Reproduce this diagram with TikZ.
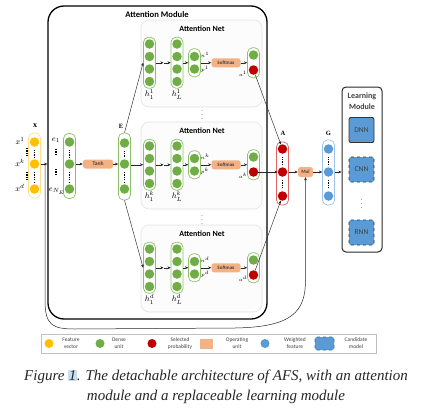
\documentclass[tikz,border=0pt]{standalone}
\usepackage{fontspec}
\setmainfont{Liberation Serif}
\setsansfont{Carlito}
\usetikzlibrary{arrows.meta}
\definecolor{cyel}{HTML}{FFC000}
\definecolor{cyelb}{HTML}{FFE08A}
\definecolor{cgrn}{HTML}{70AD47}
\definecolor{cgrnb}{HTML}{8CC168}
\definecolor{cred}{HTML}{C00000}
\definecolor{credb}{HTML}{E06666}
\definecolor{corg}{HTML}{F4B183}
\definecolor{cblu}{HTML}{5B9BD5}
\definecolor{cblub}{HTML}{9DC3E6}
\definecolor{cnetb}{HTML}{E2E2E2}
\definecolor{cnetf}{HTML}{FCFCFC}
\definecolor{ctxt}{HTML}{404040}
\definecolor{chl}{HTML}{C9DDF2}
\tikzset{
  x=1pt,y=-1pt,
  dotnode/.style={circle,inner sep=0pt,minimum size=9.5pt,fill=#1},
  gdot/.style={dotnode=cgrn},
  ydot/.style={dotnode=cyel},
  rdot/.style={dotnode=cred},
  bdot/.style={dotnode=cblu},
  colbox/.style={draw=#1,line width=0.7pt,rounded corners=5pt,minimum width=12pt,inner sep=0pt,fill=white},
  opbox/.style={fill=corg,rounded corners=2.5pt,inner sep=0pt,font=\sffamily\bfseries\fontsize{5}{6}\selectfont,text=ctxt},
  ar/.style={-{Stealth[length=3.2pt,width=2.8pt]},line width=0.45pt,draw=black!85},
  netbox/.style={draw=cnetb,fill=cnetf,line width=0.6pt,rounded corners=8pt,minimum width=121pt,minimum height=87pt,inner sep=0pt},
  ttl/.style={font=\sffamily\bfseries\fontsize{8}{9}\selectfont,inner sep=0pt},
  lbl/.style={font=\fontsize{8}{9}\selectfont,inner sep=0pt},
  slbl/.style={font=\fontsize{5}{6}\selectfont,inner sep=0pt},
  vdots/.style={line width=1.2pt,dash pattern=on 1.2pt off 1.2pt},
  cand/.style={fill=cblu,draw=black!80,line width=0.9pt,rounded corners=2pt,minimum width=25pt,minimum height=25pt,inner sep=0pt,font=\sffamily\fontsize{7.5}{8}\selectfont,text=black!75},
  legtxt/.style={font=\sffamily\fontsize{5.5}{6.8}\selectfont,text=ctxt,align=center,inner sep=0pt},
}
\newcommand{\attnet}[3]{%
  \node[netbox] (net#1) at (201.5,{#2+19.5}) {};
  \node[ttl] (ttl#1) at (202,{#2-15}) {Attention Net};
  \node[colbox=cgrnb,minimum height=51pt] (ha#1) at (149.5,{#2+18.75}) {};
  \node[colbox=cgrnb,minimum height=51pt] (hb#1) at (177,{#2+18.75}) {};
  \node[colbox=cgrnb,minimum height=28pt] (hs#1) at (194.5,{#2+18.75}) {};
  \node[colbox=cgrnb,minimum height=30pt] (ho#1) at (253.5,{#2+18.75}) {};
  \foreach \j in {0,1,2,3}{
    \node[gdot] (ha#1-\j) at (149.5,{#2+12.5*\j}) {};
    \node[gdot] (hb#1-\j) at (177,{#2+12.5*\j}) {};
  }
  \node[gdot] (hs#1-1) at (194.5,{#2+12.5}) {};
  \node[gdot] (hs#1-2) at (194.5,{#2+25}) {};
  \node[gdot] (og#1) at (253.5,{#2+11}) {};
  \node[rdot] (or#1) at (253.5,{#2+26}) {};
  \node[opbox,minimum width=29pt,minimum height=9pt] (sm#1) at (226,{#2+18.75}) {Softmax};
  \node[slbl] (n#1) at (205,{#2+11}) {$n^{#3}$};
  \node[slbl] (p#1) at (205,{#2+25}) {$p^{#3}$};
  \node[slbl] (a#1) at (243,{#2+30}) {$a^{#3}$};
  \node[lbl,font=\fontsize{8.5}{9}\selectfont] (la#1) at (149.5,{#2+50.5}) {$h_1^{#3}$};
  \node[lbl,font=\fontsize{8.5}{9}\selectfont] (lb#1) at (177,{#2+50.5}) {$h_L^{#3}$};
  \coordinate (mid#1) at (163.5,{#2+18.75});
  \draw[ar] (ha#1.east) -- (mid#1);
  \draw[ar] (mid#1) -- (hb#1.west);
  \draw[ar] (hb#1.east) -- (hs#1.west);
  \draw[ar] (hs#1.east) -- (sm#1.west);
  \draw[ar] (sm#1.east) -- (ho#1.west);
}
\begin{document}
\begin{tikzpicture}
\useasboundingbox (0,0) rectangle (421,410);
% attention module
\node[draw=black,line width=1.3pt,rounded corners=16pt,minimum width=219pt,minimum height=313pt,inner sep=0pt] (am) at (157.5,162.5) {};
\node[ttl,font=\sffamily\bfseries\fontsize{8.6}{9}\selectfont] (amt) at (157,15) {Attention Module};
% attention nets
\attnet{1}{44}{1}
\attnet{k}{146}{k}
\attnet{d}{249}{d}
\node[font=\fontsize{6}{6}\selectfont,inner sep=0pt] (vd1) at (202,112) {$\vdots$};
\node[font=\fontsize{6}{6}\selectfont,inner sep=0pt] (vd2) at (202,217) {$\vdots$};
% x column
\node[colbox=cyelb,minimum height=65pt] (xc) at (34.5,165.5) {};
\node[ydot] (x1) at (34.5,142) {};
\node[ydot] (xk) at (34.5,164) {};
\node[ydot] (xd) at (34.5,189) {};
\draw[vdots] (34.5,149.5) -- (34.5,157);
\draw[vdots] (34.5,172) -- (34.5,182);
\node[lbl] (lx) at (35,126) {$\mathbf{x}$};
\node[lbl] (lx1) at (20,141) {$x^1$};
\node[lbl] (lxk) at (20,163) {$x^k$};
\node[lbl] (lxd) at (20,188) {$x^d$};
\draw[vdots] (27,148) -- (27,156);
\draw[vdots] (27,172) -- (27,180);
% e column
\node[colbox=cgrnb,minimum height=65pt] (ec) at (69.5,166) {};
\node[gdot] (e1) at (69.5,142) {};
\node[gdot] (ek) at (69.5,164) {};
\node[gdot] (en) at (69.5,189) {};
\draw[vdots] (69.5,149.5) -- (69.5,157);
\draw[vdots] (69.5,172) -- (69.5,182);
\node[lbl] (le1) at (56,140) {$e_1$};
\node[lbl] (len) at (57,191) {$e_{N_E}$};
\draw[vdots] (56,149) -- (56,156);
\draw[vdots] (56,169) -- (56,176);
% tanh
\node[opbox,minimum width=30pt,minimum height=9pt,font=\sffamily\bfseries\fontsize{5.5}{6}\selectfont] (tanh) at (98,164) {Tanh};
% E column
\node[colbox=cgrnb,minimum height=67pt] (Ec) at (124.5,166.5) {};
\node[gdot] (E1) at (124.5,143) {};
\node[gdot] (Ek) at (124.5,164) {};
\node[gdot] (En) at (124.5,189) {};
\draw[vdots] (124.5,150.5) -- (124.5,157);
\draw[vdots] (124.5,172) -- (124.5,182);
\node[lbl,font=\fontsize{6.5}{7}\selectfont] (lE) at (121,126) {$\mathbf{E}$};
% A column
\node[colbox=credb,minimum height=63pt] (Ac) at (282.5,173.5) {};
\node[rdot] (A1) at (282.5,149) {};
\node[rdot] (A2) at (282.5,172) {};
\node[rdot] (A3) at (282.5,196) {};
\draw[vdots] (282.5,156.5) -- (282.5,164);
\draw[vdots] (282.5,180) -- (282.5,189);
\node[lbl,font=\fontsize{6.5}{7}\selectfont] (lA) at (283,133) {$\mathbf{A}$};
% Mul
\node[opbox,minimum width=15pt,minimum height=10pt] (mul) at (305.5,172) {Mul};
% G column
\node[colbox=cblub,minimum height=65pt] (Gc) at (328.5,172.5) {};
\node[bdot] (G1) at (328.5,149) {};
\node[bdot] (G2) at (328.5,172) {};
\node[bdot] (G3) at (328.5,196) {};
\draw[vdots] (328.5,156.5) -- (328.5,164);
\draw[vdots] (328.5,180) -- (328.5,189);
\node[lbl,font=\fontsize{6.5}{7}\selectfont] (lG) at (328.5,133) {$\mathbf{G}$};
% learning module
\node[draw=black!85,line width=1pt,rounded corners=4pt,minimum width=40pt,minimum height=165pt,inner sep=0pt] (lm) at (362,169.5) {};
\node[ttl,font=\sffamily\bfseries\fontsize{8}{11.5}\selectfont,align=center,text=ctxt] (lmt) at (362,101) {Learning\\Module};
\node[cand] (dnn) at (361.5,130) {DNN};
\node[cand,dashed] (cnn) at (361.5,169.5) {CNN};
\node[font=\fontsize{6}{6}\selectfont,inner sep=0pt] (vd3) at (361.5,201) {$\vdots$};
\node[cand,dashed] (rnn) at (361.5,232.5) {RNN};
% arrows
\draw[ar] (xc.east|-xk) -- (am.west|-xk);
\coordinate (fb) at (45,164);
\draw[ar,line width=0.5pt] (fb) -- (45,300) .. controls (45,325) and (52,329) .. (75,329) -- (235,328) .. controls (292,327) and (305.5,312) .. (305.5,280) -- (mul.south);
\draw[ar] (ec.east|-tanh.west) -- (tanh.west);
\draw[ar] (tanh.east) -- (Ec.west|-tanh.east);
\draw[ar] (Ec.north) -- (ha1.west);
\draw[ar] (Ec.east|-hak.west) -- (hak.west);
\draw[ar] (Ec.south) -- (had.west);
\draw[ar] (or1) -- (A1);
\draw[ar] (ork) -- (A2);
\draw[ar] (ord) -- (A3);
\draw[ar] (Ac.east|-mul.west) -- (mul.west);
\draw[ar] (mul.east) -- (Gc.west|-mul.east);
\draw[ar] (Gc.east|-mul.east) -- (lm.west|-mul.east);
% legend
\node[draw=black!25,fill=white,line width=0.5pt,minimum width=335pt,minimum height=19pt,inner sep=0pt] (leg) at (208.5,343.5) {};
\node[ydot,minimum size=9pt] (l1) at (49,343.5) {};
\node[legtxt] (l1t) at (71,343.5) {Feature\\vector};
\node[gdot,minimum size=9pt] (l2) at (100,343.5) {};
\node[legtxt] (l2t) at (119,343.5) {Dense\\unit};
\node[rdot,minimum size=9pt] (l3) at (152,343.5) {};
\node[legtxt] (l3t) at (180,343.5) {Selected\\probability};
\node[fill=corg,minimum width=13pt,minimum height=10pt,inner sep=0pt] (l4) at (206.5,343.5) {};
\node[legtxt] (l4t) at (237,343.5) {Operating\\unit};
\node[bdot,minimum size=9pt] (l5) at (265,343.5) {};
\node[legtxt] (l5t) at (295,343.5) {Weighted\\feature};
\node[fill=cblu,draw=cblu!70!black,dashed,line width=0.6pt,rounded corners=2pt,minimum width=19pt,minimum height=13pt,inner sep=0pt] (l6) at (324.5,343.5) {};
\node[legtxt] (l6t) at (356,343.5) {Candidate\\model};
% caption
\node[font=\itshape\fontsize{15}{20}\selectfont,align=center,text=black!85,inner sep=0pt] (cap) at (216,387) {Figure {\setlength\fboxsep{0.6pt}\colorbox{chl}{1}}. The detachable architecture of AFS, with an attention\\module and a replaceable learning module};
\end{tikzpicture}
\end{document}
